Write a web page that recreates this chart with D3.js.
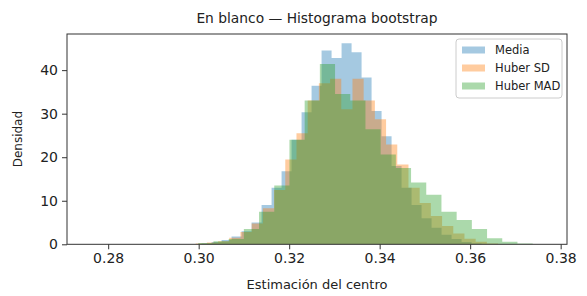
<!DOCTYPE html>
<html>
<head>
<meta charset="utf-8">
<script src="https://cdn.jsdelivr.net/npm/d3@7"></script>
<style>
  body { margin: 0; background: #fff; }
  svg { font-family: "DejaVu Sans", sans-serif; }
</style>
</head>
<body>
<svg width="587" height="296"></svg>
<script>
// series names and colours (matplotlib tab10, drawn with alpha)
var seriesNames = ['Media', 'Huber SD', 'Huber MAD'];
var seriesColors = ['#1f77b4', '#ff7f0e', '#2ca02c'];

// bin start + bin width for each series
var mediaStart = 0.30064, mediaWidth = 0.00221;
var sdStart = 0.29934, sdWidth = 0.002475;
var madStart = 0.29991, madWidth = 0.003359;

// densities per bin
var mediaDens = [0.2, 0.5, 1.0, 1.8, 3.0, 5.0, 9.0, 13.0, 16.8, 24.0, 30.3, 36.4, 44.5, 42.8,
  46.2, 44.1, 38.3, 30.6, 24.8, 18.0, 13.0, 9.0, 6.0, 3.8, 2.2, 1.2, 0.5, 0.2];
var sdDens = [0.2, 0.4, 0.7, 1.5, 2.8, 4.8, 8.3, 12.5, 19.5, 25.5, 33.0, 37.0, 38.0, 31.0,
  38.0, 33.0, 28.7, 22.9, 18.3, 13.0, 9.5, 6.5, 4.2, 2.5, 1.3, 0.6, 0.2];
var madDens = [0.3, 0.7, 1.2, 3.5, 7.5, 13.5, 24.0, 33.0, 41.4, 34.5, 33.0, 26.4, 20.6, 17.5,
  14.2, 11.4, 7.5, 5.6, 3.5, 1.4, 0.6, 0.2];

var xTicks = [0.28, 0.30, 0.32, 0.34, 0.36, 0.38];
var yTicks = [0, 10, 20, 30, 40];

var svg = d3.select('svg');
var plotLeft = 67, plotRight = 567, plotTop = 34, plotBottom = 244.3;

var x = d3.scaleLinear().domain([0.2709, 0.3814]).range([plotLeft, plotRight]);
var y = d3.scaleLinear().domain([0, 48.3]).range([plotBottom, plotTop]);

// turn start/width/densities into step points
function steps(start, width, dens) {
  var pts = dens.map(function (d, i) { return { v: start + i * width, d: d }; });
  pts.push({ v: start + dens.length * width, d: 0 });
  return pts;
}

var series = [
  steps(mediaStart, mediaWidth, mediaDens),
  steps(sdStart, sdWidth, sdDens),
  steps(madStart, madWidth, madDens)
];

var area = d3.area()
  .curve(d3.curveStepAfter)
  .x(function (p) { return x(p.v); })
  .y0(y(0))
  .y1(function (p) { return y(p.d); });

svg.append('g').selectAll('path')
  .data(series)
  .enter().append('path')
  .attr('d', area)
  .attr('fill', function (s, i) { return seriesColors[i]; })
  .attr('fill-opacity', 0.4);

// axes
var xAxis = d3.axisBottom(x).tickValues(xTicks).tickFormat(d3.format('.2f')).tickSize(5).tickPadding(4);
var yAxis = d3.axisLeft(y).tickValues(yTicks).tickFormat(d3.format('d')).tickSize(5).tickPadding(4);

var gx = svg.append('g').attr('transform', 'translate(0,' + plotBottom + ')').call(xAxis);
var gy = svg.append('g').attr('transform', 'translate(' + plotLeft + ',0)').call(yAxis);
[gx, gy].forEach(function (g) {
  g.select('.domain').remove();
  g.selectAll('line').attr('stroke', '#333');
  g.selectAll('text').attr('font-size', 14).attr('fill', '#222').attr('font-family', 'DejaVu Sans');
});

// frame
svg.append('rect')
  .attr('x', plotLeft).attr('y', plotTop)
  .attr('width', plotRight - plotLeft).attr('height', plotBottom - plotTop)
  .attr('fill', 'none').attr('stroke', '#333').attr('stroke-width', 1);

// title and labels
svg.append('text').attr('x', (plotLeft + plotRight) / 2).attr('y', 23)
  .attr('text-anchor', 'middle').attr('font-size', 13.8).attr('fill', '#222')
  .text('En blanco — Histograma bootstrap');
svg.append('text').attr('x', (plotLeft + plotRight) / 2).attr('y', 289)
  .attr('text-anchor', 'middle').attr('font-size', 13).attr('fill', '#222')
  .text('Estimación del centro');
svg.append('text').attr('transform', 'translate(22,' + ((plotTop + plotBottom) / 2) + ') rotate(-90)')
  .attr('text-anchor', 'middle').attr('font-size', 12).attr('fill', '#222')
  .text('Densidad');

// legend
var lg = svg.append('g').attr('transform', 'translate(456,39)');
lg.append('rect').attr('width', 106).attr('height', 59).attr('rx', 3)
  .attr('fill', '#fff').attr('fill-opacity', 0.8).attr('stroke', '#ccc');
seriesNames.forEach(function (name, i) {
  var row = lg.append('g').attr('transform', 'translate(6,' + (11 + i * 18) + ')');
  row.append('rect').attr('x', 0).attr('y', -3.5).attr('width', 23).attr('height', 7)
    .attr('fill', seriesColors[i]).attr('fill-opacity', 0.4);
  row.append('text').attr('x', 33).attr('y', 4).attr('font-size', 11.5).attr('fill', '#222')
    .text(name);
});
</script>
</body>
</html>
